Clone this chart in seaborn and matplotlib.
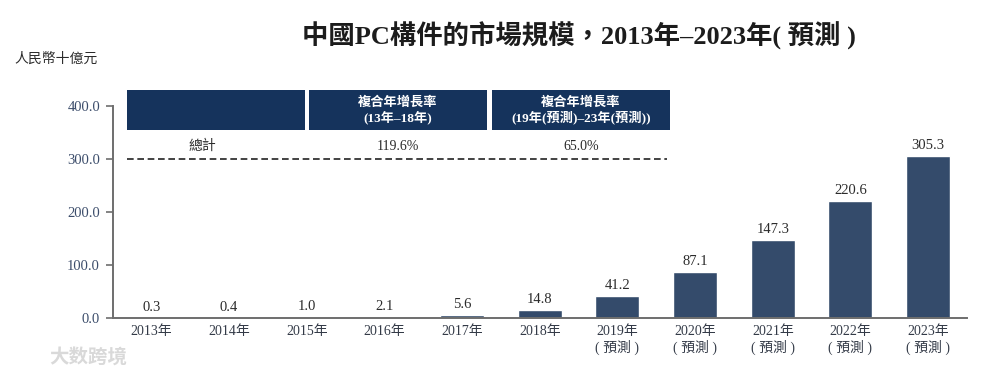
# China PC components market size, 2013-2023 (forecast)
import pandas as pd
import matplotlib
matplotlib.use('Agg')
import matplotlib.pyplot as plt
from matplotlib.patches import Rectangle
import seaborn as sns

# Data
years = ['2013年', '2014年', '2015年', '2016年', '2017年', '2018年',
         '2019年\n( 預測 )', '2020年\n( 預測 )', '2021年\n( 預測 )',
         '2022年\n( 預測 )', '2023年\n( 預測 )']
values = [0.3, 0.4, 1.0, 2.1, 5.6, 14.8, 41.2, 87.1, 147.3, 220.6, 305.3]
value_labels = ['0.3', '0.4', '1.0', '2.1', '5.6', '14.8', '41.2', '87.1', '147.3', '220.6', '305.3']
y_ticks = [0, 100, 200, 300, 400]
table_heads = ['', '複合年增長率\n(13年–18年)', '複合年增長率\n(19年(預測)–23年(預測))']
table_values = ['總計', '119.6%', '65.0%']

W, H = 981, 376
BAR = '#344b6b'
HEAD = '#15335c'
TEXT = '#2b2b2b'
FONT = ['Liberation Serif', 'Noto Sans CJK TC']

sns.set_theme(style='white')
plt.rcParams['font.family'] = FONT

df = pd.DataFrame({'year': years, 'value': values})

fig = plt.figure(figsize=(W / 100, H / 100), dpi=100)
ax = fig.add_axes([112.5 / W, 1 - 318 / H, (967 - 112.5) / W, (318 - 105.6) / H])

sns.barplot(data=df, x='year', y='value', color=BAR, saturation=1, width=0.566, ax=ax)
ax.set_xlim(-0.5, 10.5)
ax.set_ylim(0, 400)
ax.set_xlabel('')
ax.set_ylabel('')
ax.set_yticks(y_ticks)
ax.set_yticklabels([f'{v:.1f}' for v in y_ticks], fontsize=10.5, color='#3c4d6b')
ax.tick_params(axis='y', length=5, width=1.2, color='#6e6e6e', left=True, pad=4)
ax.tick_params(axis='x', length=0, pad=5, labelsize=10, labelcolor='#333a47')
for lab in ax.get_xticklabels():
    lab.set_linespacing(1.15)

sns.despine(ax=ax)
for side in ['left', 'bottom']:
    ax.spines[side].set_color('#6e6e6e')
    ax.spines[side].set_linewidth(1.4)

# Value labels above the bars
for container in ax.containers:
    ax.bar_label(container, labels=value_labels, padding=3, fontsize=10.5, color=TEXT)

# Header boxes and table row, placed in pixels
def px(x, y):
    return x / W, 1 - y / H

boxes = [(127, 305), (309, 487), (492, 670)]
for (x0, x1), head, val in zip(boxes, table_heads, table_values):
    fig.add_artist(Rectangle(px(x0, 130), (x1 - x0) / W, 40 / H, transform=fig.transFigure,
                             facecolor=HEAD, edgecolor='none'))
    if head:
        fig.text(*px((x0 + x1) / 2, 110), head, ha='center', va='center', fontsize=9.5,
                 color='white', fontweight='bold', linespacing=1.15)
    fig.text(*px((x0 + x1) / 2 - (14 if val == '總計' else 0), 146), val, ha='center', va='center',
             fontsize=10, color=TEXT)

# Dashed rule sits on the 300 gridline level
ax.plot([-0.31, 6.64], [300, 300], color='#222222', lw=1.2, dashes=(4, 2.2), clip_on=False)

fig.text(*px(579, 36), '中國PC構件的市場規模，2013年–2023年( 預測 )', ha='center', va='center',
         fontsize=19, fontweight='bold', color='#1c1c1c')
fig.text(*px(56, 59), '人民幣十億元', ha='center', va='center', fontsize=10, color=TEXT)

# Watermark
fig.text(*px(88, 357), '大数跨境', ha='center', va='center', fontsize=14, color='#d9d9d9',
         fontweight='bold')

fig.savefig('out.png', dpi=100)
